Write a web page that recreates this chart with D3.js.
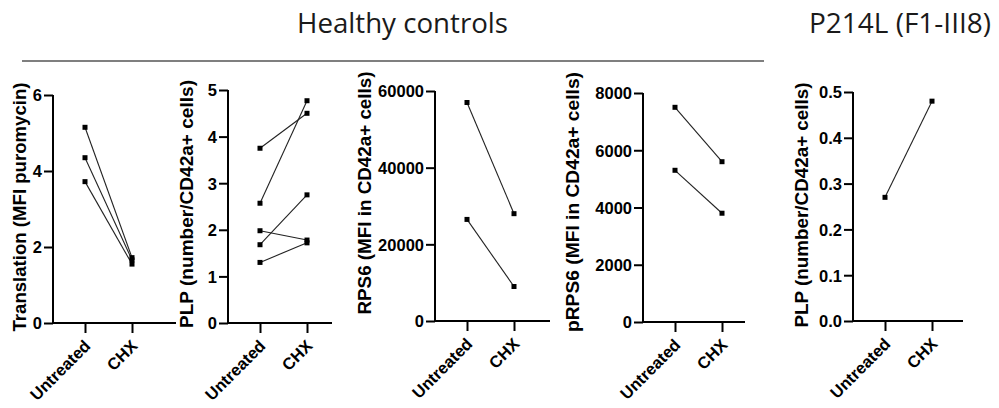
<!DOCTYPE html>
<html><head><meta charset="utf-8">
<script src="https://cdn.jsdelivr.net/npm/d3@7"></script>
<style>body{margin:0;background:#fff}svg{display:block}</style>
</head><body>
<svg id="c" width="999" height="408"></svg>
<script>
const categories = ["Untreated", "CHX"];
const groupTitles = ["Healthy controls", "P214L (F1-III8)"];

// panel 1: Translation
const translationUntreated = [5.15, 4.35, 3.72];
const translationCHX = [1.72, 1.66, 1.55];
const translationTicks = [0, 2, 4, 6];
// panel 2: PLP healthy
const plpUntreated = [3.75, 2.57, 1.68, 1.98, 1.3];
const plpCHX = [4.5, 4.77, 2.75, 1.78, 1.72];
const plpTicks = [0, 1, 2, 3, 4, 5];
// panel 3: RPS6
const rps6Untreated = [57000, 26500];
const rps6CHX = [28000, 9000];
const rps6Ticks = [0, 20000, 40000, 60000];
// panel 4: pRPS6
const prps6Untreated = [7500, 5300];
const prps6CHX = [5600, 3800];
const prps6Ticks = [0, 2000, 4000, 6000, 8000];
// panel 5: PLP patient
const plpPatientUntreated = [0.27];
const plpPatientCHX = [0.48];
const plpPatientTicks = [0, 0.1, 0.2, 0.3, 0.4, 0.5];

const panels = [
  {title:"Translation (MFI puromycin)", u:translationUntreated, c:translationCHX, ticks:translationTicks, fmt:d3.format("d"),
   ax:53, xEnd:176, yTop:95, yBot:323, tx:21, ty:207, tl:249},
  {title:"PLP (number/CD42a+ cells)", u:plpUntreated, c:plpCHX, ticks:plpTicks, fmt:d3.format("d"),
   ax:228, xEnd:332, yTop:90, yBot:323, tx:188, ty:204, tl:248},
  {title:"RPS6 (MFI in CD42a+ cells)", u:rps6Untreated, c:rps6CHX, ticks:rps6Ticks, fmt:d3.format("d"),
   ax:435, xEnd:550, yTop:91, yBot:321, tx:366, ty:193, tl:243},
  {title:"pRPS6 (MFI in CD42a+ cells)", u:prps6Untreated, c:prps6CHX, ticks:prps6Ticks, fmt:d3.format("d"),
   ax:643, xEnd:745, yTop:93, yBot:322, tx:574, ty:202, tl:260},
  {title:"PLP (number/CD42a+ cells)", u:plpPatientUntreated, c:plpPatientCHX, ticks:plpPatientTicks, fmt:d3.format(".1f"),
   ax:853, xEnd:963, yTop:92, yBot:321, tx:803, ty:205, tl:245}
];

const svg = d3.select("#c");

// header
const hdrFont = "'Liberation Sans Narrow','Open Sans',sans-serif";
svg.append("text").attr("x",297).attr("y",33).style("font-family",hdrFont).style("font-size","27px")
  .attr("fill","#1a1a1a").attr("textLength",211).attr("lengthAdjust","spacingAndGlyphs").text(groupTitles[0]);
svg.append("text").attr("x",809).attr("y",33).style("font-family",hdrFont).style("font-size","27px")
  .attr("fill","#1a1a1a").attr("textLength",182).attr("lengthAdjust","spacingAndGlyphs").text(groupTitles[1]);
svg.append("line").attr("x1",22).attr("x2",764).attr("y1",61).attr("y2",61)
  .attr("stroke","#555").attr("stroke-width",1.6);

const font = "Arial, 'Liberation Sans', sans-serif";

panels.forEach(p => {
  const g = svg.append("g");
  const y = d3.scaleLinear().domain([0, d3.max(p.ticks)]).range([p.yBot, p.yTop]);
  const x = d3.scalePoint().domain(categories).range([p.ax + 32, p.ax + 79]);

  // y axis
  const ya = g.append("g").attr("transform", `translate(${p.ax},0)`)
    .call(d3.axisLeft(y).tickValues(p.ticks).tickFormat(p.fmt).tickSize(9).tickSizeOuter(0).tickPadding(2));
  ya.attr("font-family", null).attr("font-size", null);
  ya.select(".domain").attr("stroke","#000").attr("stroke-width",2)
    .attr("d", `M0,${p.yTop}V${p.yBot}`);
  ya.selectAll(".tick line").attr("stroke","#000").attr("stroke-width",2);
  ya.selectAll(".tick text").style("font-family",font).style("font-weight","bold").style("font-size","16.5px").attr("fill","#000")
    .attr("dy","0.36em");

  // x axis
  const xa = g.append("g").attr("transform", `translate(0,${p.yBot})`)
    .call(d3.axisBottom(x).tickSize(10).tickSizeOuter(0));
  xa.attr("font-family", null).attr("font-size", null);
  xa.select(".domain").attr("stroke","#000").attr("stroke-width",2)
    .attr("d", `M${p.ax - 1},0H${p.xEnd}`);
  xa.selectAll(".tick line").attr("stroke","#000").attr("stroke-width",2);
  xa.selectAll(".tick text").style("font-family",font).style("font-weight","bold").style("font-size","16.5px").attr("fill","#000")
    .attr("text-anchor","end").attr("dy",0).attr("y",0)
    .attr("transform","translate(6,24) rotate(-45)");

  // title
  g.append("text").attr("transform", `translate(${p.tx},${p.ty}) rotate(-90)`)
    .attr("text-anchor","middle").attr("dominant-baseline","middle")
    .attr("textLength", p.tl).attr("lengthAdjust","spacingAndGlyphs")
    .style("font-family",font).style("font-weight","bold").style("font-size","17.5px").attr("fill","#000")
    .text(p.title);

  // pairs
  const pairs = p.u.map((v,i) => [[categories[0], v], [categories[1], p.c[i]]]);
  g.selectAll("path.pair").data(pairs).enter().append("path").attr("class","pair")
    .attr("d", d3.line().x(d => x(d[0])).y(d => y(d[1])))
    .attr("fill","none").attr("stroke","#222").attr("stroke-width",1.1);
  const pts = pairs.flat();
  g.selectAll("rect.pt").data(pts).enter().append("rect").attr("class","pt")
    .attr("x", d => x(d[0]) - 2.5).attr("y", d => y(d[1]) - 2.5)
    .attr("width",5).attr("height",5).attr("fill","#000");
});
</script>
</body></html>
